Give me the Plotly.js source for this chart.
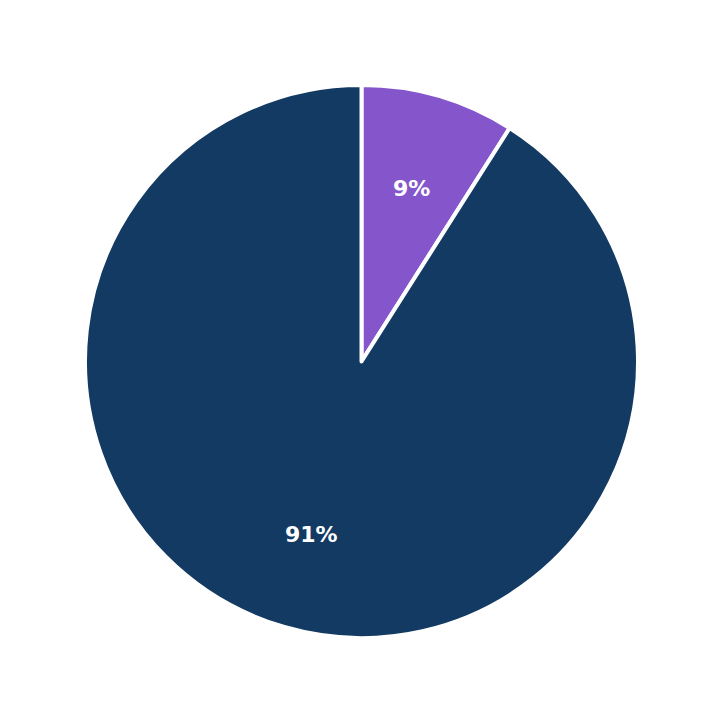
<!DOCTYPE html>
<html>
<head>
<meta charset="utf-8">
<script src="https://cdn.plot.ly/plotly-3.0.1.min.js"></script>
<style>
  html, body { margin: 0; padding: 0; background: #fff; }
  #myChart { width: 723px; height: 723px; }
</style>
</head>
<body>
<div id="myChart"></div>
<script>
const labels = ['A', 'B'];
const values = [9, 91];
const colors = ['#8556CB', '#133A62'];

// percent labels sit at a fixed fraction of the radius, in the middle of each slice
const pctDistance = 0.65;

function percentLabels(){
	const total = values.reduce((a, b) => a + b, 0);
	let acumulado = 0;
	return values.map(function(v){
		const meio = (acumulado + v / 2) / total * 2 * Math.PI;
		acumulado += v;
		return {
			x: 0.5 + 0.5 * pctDistance * Math.sin(meio),
			y: 0.5 + 0.5 * pctDistance * Math.cos(meio),
			xref: 'paper', yref: 'paper',
			text: '<b>' + Math.round(v / total * 100) + '%</b>',
			showarrow: false,
			xanchor: 'center', yanchor: 'middle',
			font: { family: 'DejaVu Sans', size: 22, color: '#ffffff' }
		};
	});
}

const trace = {
  type: 'pie',
  labels: labels,
  values: values,
  sort: false,
  direction: 'clockwise',
  rotation: 0,
  marker: { colors: colors, line: { color: '#ffffff', width: 4 } },
  textinfo: 'none',
  hoverinfo: 'none'
};

const layout = {
  width: 723,
  height: 723,
  showlegend: false,
  margin: { l: 85, r: 85, t: 85, b: 85 },
  paper_bgcolor: '#ffffff',
  annotations: percentLabels()
};

Plotly.newPlot('myChart', [trace], layout, { displayModeBar: false, staticPlot: true });
</script>
</body>
</html>
